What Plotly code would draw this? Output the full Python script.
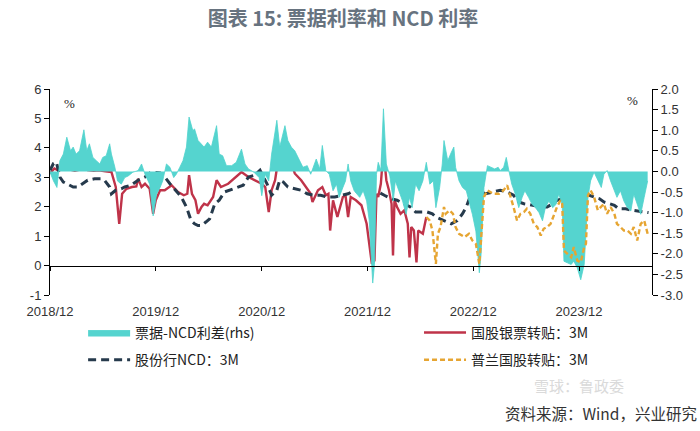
import plotly.graph_objects as go

# ---------------- data ----------------
tick_dates = ["2018-12-01", "2019-12-01", "2020-12-01", "2021-12-01", "2022-12-01", "2023-12-01"]
tick_labels = ["2018/12", "2019/12", "2020/12", "2021/12", "2022/12", "2023/12"]

left_ticks = [-1, 0, 1, 2, 3, 4, 5, 6]
left_tick_labels = ["-1", "0", "1", "2", "3", "4", "5", "6"]
right_ticks = [-3.0, -2.5, -2.0, -1.5, -1.0, -0.5, 0.0, 0.5, 1.0, 1.5, 2.0]
right_tick_labels = ["-3.0", "-2.5", "-2.0", "-1.5", "-1.0", "-0.5", "0.0", "0.5", "1.0", "1.5", "2.0"]

# 票据-NCD利差 (rhs)
spread_dates = [
    "2018-12-01", "2018-12-13", "2018-12-25", "2019-01-04", "2019-01-16", "2019-01-28", "2019-02-10", "2019-02-19",
    "2019-03-01", "2019-03-13", "2019-03-28", "2019-04-07", "2019-04-16", "2019-04-28", "2019-05-10", "2019-05-22",
    "2019-06-01", "2019-06-13", "2019-06-25", "2019-07-01", "2019-07-13", "2019-07-22", "2019-08-04", "2019-08-16",
    "2019-08-28", "2019-09-13", "2019-10-01", "2019-10-13", "2019-10-25", "2019-11-10", "2019-11-22", "2019-12-04",
    "2019-12-16", "2019-12-25", "2020-01-07", "2020-01-19", "2020-02-01", "2020-02-10", "2020-02-22", "2020-03-04",
    "2020-03-16", "2020-03-25", "2020-04-07", "2020-04-13", "2020-04-25", "2020-05-07", "2020-05-16", "2020-05-28",
    "2020-06-10", "2020-06-28", "2020-07-07", "2020-07-19", "2020-08-01", "2020-08-19", "2020-09-04", "2020-09-22",
    "2020-10-04", "2020-10-16", "2020-11-04", "2020-11-22", "2020-12-01", "2020-12-13", "2020-12-25", "2021-01-04",
    "2021-01-22", "2021-02-01", "2021-02-19", "2021-03-01", "2021-03-13", "2021-03-25", "2021-04-10", "2021-04-22",
    "2021-05-07", "2021-05-19", "2021-06-07", "2021-06-19", "2021-06-28", "2021-07-10", "2021-07-22", "2021-08-04",
    "2021-08-16", "2021-08-25", "2021-09-07", "2021-09-16", "2021-09-25", "2021-10-04", "2021-10-16", "2021-11-04",
    "2021-11-16", "2021-11-28", "2021-12-07", "2021-12-19", "2021-12-25", "2022-01-01", "2022-01-07", "2022-01-16",
    "2022-01-25", "2022-02-04", "2022-02-16", "2022-02-28", "2022-03-07", "2022-03-19", "2022-04-01", "2022-04-13",
    "2022-04-25", "2022-05-04", "2022-05-16", "2022-05-28", "2022-06-10", "2022-06-22", "2022-07-04", "2022-07-16",
    "2022-07-25", "2022-08-07", "2022-08-16", "2022-08-22", "2022-09-04", "2022-09-16", "2022-09-25", "2022-10-01",
    "2022-10-13", "2022-10-25", "2022-11-07", "2022-11-19", "2022-11-28", "2022-12-10", "2022-12-22", "2022-12-28",
    "2023-01-07", "2023-01-19", "2023-02-01", "2023-02-13", "2023-02-25", "2023-03-04", "2023-03-16", "2023-03-25",
    "2023-04-04", "2023-04-13", "2023-04-25", "2023-05-07", "2023-05-19", "2023-05-28", "2023-06-10", "2023-06-22",
    "2023-07-04", "2023-07-16", "2023-07-28", "2023-08-07", "2023-08-19", "2023-09-01", "2023-09-13", "2023-09-22",
    "2023-10-04", "2023-10-10", "2023-10-22", "2023-11-04", "2023-11-13", "2023-11-25", "2023-12-07", "2023-12-19",
    "2024-01-01", "2024-01-10", "2024-01-22", "2024-02-04", "2024-02-16", "2024-02-25", "2024-03-07", "2024-03-19",
    "2024-04-01", "2024-04-10", "2024-04-22", "2024-05-04", "2024-05-16", "2024-05-28", "2024-06-07", "2024-06-19",
    "2024-07-01", "2024-07-13", "2024-07-25",
]
spread_values = [
    -0.02, -0.23, -0.39, 0.26, 0.42, 0.83, 0.50, 0.59,
    0.42, 0.50, 1.01, 0.50, 0.67, 0.34, 0.26, 0.18,
    0.34, 0.38, 0.67, 0.42, 0.10, -0.23, -0.31, -0.15,
    -0.11, -0.02, 0.02, 0.18, -0.07, -0.31, -1.08, -0.55,
    -0.39, -0.23, 0.18, 0.10, -0.15, -0.07, 0.10, 0.26,
    0.59, 1.32, 0.99, 1.03, 0.75, 0.67, 0.59, 0.71,
    0.59, 1.11, 0.42, 0.38, 0.14, 0.14, 0.22, 0.54,
    0.18, 0.06, -0.02, -0.15, -0.59, -0.07, -0.23, 0.42,
    1.24, 0.59, 1.11, 0.75, 0.59, 0.50, 0.26, 0.10,
    0.14, -0.07, 0.30, 0.06, 0.63, 0.02, -0.07, -0.47,
    -0.31, -0.63, -0.39, -0.23, 0.18, -0.23, -0.47, -0.63,
    -0.47, -0.72, -1.20, -2.71, -2.26, -0.07, 0.22, 0.02,
    1.52, 0.18, -0.11, -0.72, -0.23, -0.47, -0.72, -1.04,
    -0.63, -0.88, -0.31, -0.47, -0.23, 0.22, -0.31, -0.23,
    -0.88, -0.39, 0.18, 0.75, 0.26, 0.46, 0.59, 0.10,
    -0.23, -0.39, -0.47, -0.80, -1.04, -1.45, -2.46, -2.02,
    -0.39, 0.14, 0.10, 0.06, 0.10, 0.02, 0.10, 0.34,
    -0.02, -0.31, -0.55, -0.88, -0.63, -0.47, -0.63, -0.80,
    -0.88, -1.00, -1.20, -0.88, -0.72, -0.88, -0.80, -0.55,
    -0.80, -2.18, -2.22, -2.26, -2.18, -2.34, -2.63, -2.26,
    -0.63, -0.23, -0.02, -0.23, -0.39, -0.07, 0.02, -0.23,
    -0.47, -0.63, -0.47, -0.72, -0.88, -0.96, -0.55, -0.80,
    -1.04, -0.63, -0.23,
]

# 国股银票转贴: 3M
bill_dates = [
    "2018-12-01", "2018-12-16", "2019-01-01", "2019-01-16", "2019-01-28", "2019-02-10", "2019-02-25", "2019-03-13",
    "2019-03-28", "2019-04-10", "2019-05-01", "2019-05-19", "2019-06-10", "2019-07-01", "2019-07-16", "2019-07-28",
    "2019-08-07", "2019-08-22", "2019-09-10", "2019-09-25", "2019-10-01", "2019-10-13", "2019-10-25", "2019-11-10",
    "2019-11-22", "2019-12-01", "2019-12-16", "2020-01-01", "2020-01-25", "2020-02-16", "2020-03-07", "2020-03-19",
    "2020-03-25", "2020-04-04", "2020-04-16", "2020-04-25", "2020-05-07", "2020-05-16", "2020-05-28", "2020-06-16",
    "2020-06-28", "2020-07-13", "2020-08-07", "2020-08-28", "2020-09-22", "2020-10-16", "2020-11-07", "2020-12-01",
    "2020-12-13", "2020-12-25", "2021-01-04", "2021-01-16", "2021-01-28", "2021-02-13", "2021-02-22", "2021-03-01",
    "2021-03-13", "2021-03-25", "2021-04-16", "2021-05-01", "2021-05-19", "2021-05-25", "2021-06-13", "2021-06-28",
    "2021-07-10", "2021-07-19", "2021-07-25", "2021-08-04", "2021-08-19", "2021-09-07", "2021-09-16", "2021-09-25",
    "2021-10-04", "2021-10-22", "2021-11-10", "2021-11-28", "2021-12-07", "2021-12-16", "2021-12-25", "2022-01-01",
    "2022-01-07", "2022-01-16", "2022-01-25", "2022-02-04", "2022-02-13", "2022-02-22", "2022-02-27", "2022-03-04",
    "2022-03-13", "2022-03-25", "2022-04-07", "2022-04-19", "2022-04-25", "2022-05-01", "2022-05-10", "2022-05-19",
    "2022-05-25", "2022-06-10", "2022-06-22",
]
bill_values = [
    3.13, 3.30, 3.22, 3.33, 3.58, 3.26, 3.22, 3.26,
    3.41, 3.24, 3.22, 3.24, 3.20, 3.18, 2.67, 1.42,
    2.44, 2.61, 2.67, 2.69, 2.95, 2.67, 2.78, 2.61,
    1.76, 2.22, 2.56, 2.56, 2.73, 2.50, 2.39, 2.44,
    3.07, 2.44, 2.22, 1.76, 1.99, 2.10, 2.05, 2.33,
    2.90, 2.67, 2.78, 2.95, 3.18, 3.01, 2.90, 2.78,
    2.67, 1.82, 2.56, 2.90, 3.69, 3.81, 4.03, 3.58,
    3.47, 3.13, 2.90, 2.67, 2.44, 2.16, 2.56, 2.67,
    2.39, 2.44, 1.19, 2.22, 1.65, 2.33, 2.39, 1.65,
    2.33, 2.22, 2.05, 1.42, 0.63, 0.06, 0.17, 2.44,
    2.33, 2.78, 3.92, 2.90, 2.56, 2.10, 0.34, 2.22,
    1.99, 1.76, 1.88, 1.42, 0.28, 1.31, 1.19, 0.11,
    1.19, 1.08, 1.65,
]

# 股份行NCD: 3M
ncd_dates = [
    "2018-12-01", "2018-12-13", "2018-12-23", "2019-01-04", "2019-01-16", "2019-01-28", "2019-02-19", "2019-03-07",
    "2019-03-25", "2019-04-10", "2019-05-04", "2019-05-25", "2019-06-07", "2019-06-25", "2019-07-01", "2019-07-16",
    "2019-08-04", "2019-08-16", "2019-09-07", "2019-10-01", "2019-10-25", "2019-11-16", "2019-12-16", "2020-01-01",
    "2020-01-19", "2020-02-07", "2020-02-22", "2020-03-04", "2020-03-16", "2020-04-01", "2020-04-13", "2020-04-25",
    "2020-05-07", "2020-05-22", "2020-06-04", "2020-06-22", "2020-07-07", "2020-07-25", "2020-08-28", "2020-09-28",
    "2020-10-16", "2020-11-07", "2020-11-25", "2020-12-07", "2020-12-19", "2021-01-04", "2021-01-22", "2021-02-01",
    "2021-02-13", "2021-03-01", "2021-03-22", "2021-04-16", "2021-05-07", "2021-05-28", "2021-06-22", "2021-07-16",
    "2021-08-10", "2021-09-01", "2021-09-25", "2021-10-07", "2021-10-28", "2021-11-19", "2021-12-13", "2022-01-07",
    "2022-01-28", "2022-02-22", "2022-03-13", "2022-04-07", "2022-04-28", "2022-05-16", "2022-06-10", "2022-06-25",
    "2022-07-13", "2022-07-25", "2022-08-22", "2022-09-16", "2022-10-07", "2022-10-25", "2022-11-07", "2022-11-22",
    "2022-12-10", "2022-12-28", "2023-01-13", "2023-02-07", "2023-03-04", "2023-03-28", "2023-04-19", "2023-05-07",
    "2023-05-25", "2023-06-10", "2023-06-28", "2023-07-22", "2023-08-13", "2023-09-01", "2023-09-16", "2023-10-04",
    "2023-10-28", "2023-11-13", "2023-12-01", "2023-12-19", "2024-01-04", "2024-01-22", "2024-02-10", "2024-02-25",
    "2024-03-13", "2024-04-01", "2024-04-16", "2024-05-10", "2024-06-01", "2024-06-25", "2024-07-16", "2024-07-28",
]
ncd_values = [
    3.24, 3.47, 3.52, 3.01, 2.84, 2.78, 2.67, 2.67,
    2.78, 2.90, 2.95, 2.95, 2.90, 2.67, 2.44, 2.56,
    2.61, 2.67, 2.73, 2.90, 3.01, 3.18, 3.15, 3.01,
    2.78, 2.56, 2.39, 2.22, 1.99, 1.53, 1.42, 1.36,
    1.36, 1.48, 1.59, 2.10, 2.22, 2.50, 2.61, 2.73,
    3.01, 3.07, 3.24, 3.01, 2.78, 2.39, 2.56, 2.90,
    2.84, 2.67, 2.61, 2.56, 2.44, 2.39, 2.39, 2.33,
    2.33, 2.39, 2.44, 2.50, 2.56, 2.61, 2.56, 2.50,
    2.39, 2.27, 2.22, 2.10, 1.99, 1.82, 1.82, 1.82,
    1.76, 1.65, 1.53, 1.42, 1.53, 1.76, 1.99, 2.39,
    2.56, 2.50, 2.44, 2.50, 2.56, 2.50, 2.39, 2.16,
    2.10, 2.08, 2.05, 1.99, 1.99, 2.10, 2.22, 2.27,
    2.50, 2.56, 2.65, 2.56, 2.39, 2.33, 2.27, 2.16,
    2.10, 2.05, 1.93, 1.93, 1.88, 1.85, 1.82, 1.80,
]

# 普兰国股转贴: 3M
pl_dates = [
    "2022-06-22", "2022-07-04", "2022-07-13", "2022-07-25", "2022-08-01", "2022-08-10", "2022-08-22", "2022-08-28",
    "2022-09-10", "2022-09-22", "2022-10-01", "2022-10-13", "2022-11-01", "2022-11-16", "2022-11-28", "2022-12-10",
    "2022-12-22", "2022-12-28", "2023-01-07", "2023-01-19", "2023-02-07", "2023-02-28", "2023-03-16", "2023-03-28",
    "2023-04-10", "2023-04-19", "2023-05-01", "2023-05-13", "2023-05-25", "2023-06-04", "2023-06-16", "2023-06-28",
    "2023-07-10", "2023-07-22", "2023-08-01", "2023-08-13", "2023-08-25", "2023-09-07", "2023-09-16", "2023-09-28",
    "2023-10-04", "2023-10-10", "2023-10-22", "2023-11-04", "2023-11-13", "2023-11-25", "2023-12-07", "2023-12-19",
    "2023-12-25", "2024-01-01", "2024-01-10", "2024-01-22", "2024-02-04", "2024-02-16", "2024-02-25", "2024-03-07",
    "2024-03-19", "2024-04-01", "2024-04-10", "2024-04-22", "2024-05-04", "2024-05-16", "2024-05-28", "2024-06-07",
    "2024-06-19", "2024-07-01", "2024-07-13", "2024-07-25",
]
pl_values = [
    1.65, 1.53, 1.19, 0.06, 1.08, 1.31, 1.99, 1.76,
    1.88, 1.76, 1.31, 1.08, 0.97, 1.08, 0.85, 0.74,
    0.06, 0.97, 2.33, 2.56, 2.44, 2.44, 2.56, 2.73,
    2.33, 1.99, 1.53, 1.76, 1.82, 1.93, 1.76, 1.42,
    1.31, 1.02, 1.25, 1.31, 1.42, 1.76, 1.99, 2.22,
    2.10, 0.51, 0.40, 0.28, 0.63, 0.17, 0.11, 0.63,
    0.74, 2.39, 2.56, 2.33, 1.88, 1.99, 2.10, 1.76,
    1.99, 1.76, 1.42, 1.31, 1.19, 1.19, 1.08, 1.31,
    0.85, 1.42, 1.53, 1.08,
]

# ---------------- figure ----------------
CJK = "Noto Sans CJK SC"
fig = go.Figure()

fig.add_trace(go.Scatter(
    x=spread_dates, y=spread_values, name="票据-NCD利差(rhs)", yaxis="y2",
    mode="lines", line=dict(color="#4fd3cd", width=0.8), fill="tozeroy",
    fillcolor="#55d4cf", legend="legend",
))
fig.add_trace(go.Scatter(
    x=bill_dates, y=bill_values, name="国股银票转贴：3M", mode="lines",
    line=dict(color="#bf3349", width=2.4), legend="legend2",
))
fig.add_trace(go.Scatter(
    x=ncd_dates, y=ncd_values, name="股份行NCD：3M", mode="lines",
    line=dict(color="#263a4c", width=3, dash="8px,5px"), legend="legend3",
))
fig.add_trace(go.Scatter(
    x=pl_dates, y=pl_values, name="普兰国股转贴：3M", mode="lines", xaxis="x2",
    line=dict(color="#e6a532", width=2.4, dash="5px,3px"), legend="legend4",
))

axis_font = dict(family="Liberation Sans, Arial", size=13, color="#333333")
x_range = ["2018-12-01", "2024-08-09"]
leg_font = dict(family=CJK, size=14, color="#222222")


def leg(x, y):
    return dict(orientation="h", x=x, xanchor="left", y=y, yanchor="middle", font=leg_font,
                bgcolor="rgba(0,0,0,0)", itemwidth=42)


fig.update_layout(
    width=700, height=431,
    margin=dict(l=50, r=48, t=89, b=136, autoexpand=False),
    paper_bgcolor="white", plot_bgcolor="white",
    title=dict(text="图表 15: 票据利率和 NCD 利率", x=0.49, xanchor="center", y=0.955, yanchor="middle",
               font=dict(family=CJK, size=20, color="#67737f", weight="bold")),
    xaxis=dict(type="date", range=x_range, tickvals=tick_dates, ticktext=tick_labels,
               showline=False, ticks="", showgrid=False, zeroline=False, tickfont=axis_font,
               ticklabelstandoff=7),
    xaxis2=dict(type="date", range=x_range, matches="x", overlaying="x", anchor="free",
                position=1/7, side="bottom", showline=True, linecolor="#000000", linewidth=1,
                ticks="outside", ticklen=4, tickcolor="#000000", tickvals=tick_dates,
                showticklabels=False, showgrid=False, zeroline=False),
    yaxis=dict(range=[-1, 6], tickvals=left_ticks, ticktext=left_tick_labels, showline=True,
               linecolor="#000000", linewidth=1, ticks="outside", ticklen=5, tickcolor="#000000",
               showgrid=False, zeroline=False, tickfont=axis_font),
    yaxis2=dict(range=[-3, 2], overlaying="y", side="right", tickvals=right_ticks,
                ticktext=right_tick_labels, showline=True, linecolor="#000000", linewidth=1,
                ticks="outside", ticklen=5, tickcolor="#000000", showgrid=False, zeroline=False,
                tickfont=axis_font),
    legend=leg(0.055, -0.184),
    legend2=leg(0.613, -0.184),
    legend3=leg(0.055, -0.316),
    legend4=leg(0.613, -0.316),
    showlegend=True,
    annotations=[
        dict(text="%", xref="paper", yref="paper", x=0.033, y=0.932, xanchor="center", yanchor="middle",
             showarrow=False, font=dict(family="Liberation Serif", size=13, color="#222222")),
        dict(text="%", xref="paper", yref="paper", x=0.968, y=0.942, xanchor="center", yanchor="middle",
             showarrow=False, font=dict(family="Liberation Serif", size=13, color="#222222")),
        dict(text="雪球：鲁政委", xref="paper", yref="paper", x=0.80, y=-0.44, xanchor="left",
             yanchor="middle", showarrow=False, font=dict(family=CJK, size=15, color="#dadada")),
        dict(text="资料来源：Wind，兴业研究", xref="paper", yref="paper", x=0.752, y=-0.575,
             xanchor="left", yanchor="middle", showarrow=False,
             font=dict(family=CJK, size=15.5, color="#333333")),
    ],
)

fig.write_html("out.html", config={"displayModeBar": False},
               post_script="document.body.style.margin='0';")
